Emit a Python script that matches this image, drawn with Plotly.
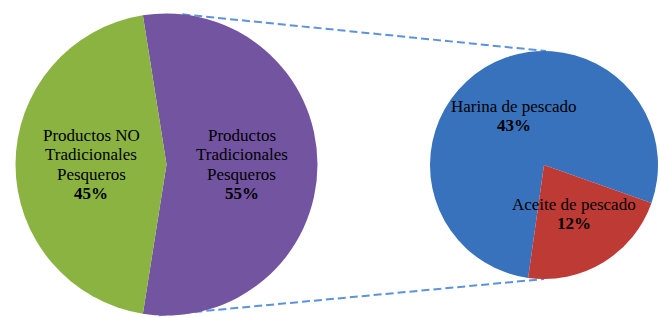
import math
import plotly.graph_objects as go

# ---- data ----
main_labels = ["Productos Tradicionales Pesqueros", "Productos NO Tradicionales Pesqueros"]
main_values = [55, 45]
main_colors = ["#7354a0", "#8bb341"]

sub_labels = ["Harina de pescado", "Aceite de pescado"]
sub_values = [43, 12]
sub_colors = ["#3872bc", "#be3a35"]

W, H = 660, 318
FONT = "Liberation Serif, Times New Roman, serif"
FS = 17
LINE_H = 19.3

# geometry (pixels)
L_CX, L_CY, L_R = 166.5, 164.5, 151
R_CX, R_CY, R_R = 544, 165, 114

def px_to_paper(x, y):
    return x / W, 1 - y / H

def domain(cx, cy, r):
    x0, y1 = px_to_paper(cx - r, cy - r)
    x1, y0 = px_to_paper(cx + r, cy + r)
    return dict(x=[x0, x1], y=[y0, y1])

# the "other" slice of the main pie is centred at 3 o'clock
main_total = sum(main_values)
main_rot = 90 - main_values[0] / main_total * 360 / 2
sub_rot = 188

fig = go.Figure()
fig.add_trace(go.Pie(
    labels=main_labels, values=main_values, sort=False, direction="clockwise",
    rotation=main_rot, marker=dict(colors=main_colors, line=dict(width=0)),
    textinfo="none", hoverinfo="label+percent", domain=domain(L_CX, L_CY, L_R),
    showlegend=False,
))
fig.add_trace(go.Pie(
    labels=sub_labels, values=sub_values, sort=False, direction="clockwise",
    rotation=sub_rot, marker=dict(colors=sub_colors, line=dict(width=0)),
    textinfo="none", hoverinfo="label", domain=domain(R_CX, R_CY, R_R),
    showlegend=False,
))

annotations = []

def add_labels(labels, values, pct_total, rot, cx, cy, r, splits):
    total = sum(values)
    start = rot
    for lab, v, sp in zip(labels, values, splits):
        span = v / total * 360
        mid = math.radians(start + span / 2)
        start += span
        x = cx + 0.5 * r * math.sin(mid)
        y = cy - 0.5 * r * math.cos(mid)
        lines = sp + ["<b>%d%%</b>" % round(v / pct_total * 100)]
        n = len(lines)
        for k, t in enumerate(lines):
            yy = y + (k - (n - 1) / 2) * LINE_H
            px, py = px_to_paper(x, yy)
            annotations.append(dict(
                x=px, y=py, xref="paper", yref="paper", text=t, showarrow=False,
                font=dict(family=FONT, size=FS, color="#000000"),
                xanchor="center", yanchor="middle",
            ))

add_labels(main_labels, main_values, main_total, main_rot, L_CX, L_CY, L_R,
           [["Productos", "Tradicionales", "Pesqueros"],
            ["Productos NO", "Tradicionales", "Pesqueros"]])
add_labels(sub_labels, sub_values, main_total, sub_rot, R_CX, R_CY, R_R,
           [["Harina de pescado"], ["Aceite de pescado"]])

# connector lines
shapes = []
for a_left, a_right in [(6, 1), (183, 180)]:
    xa = L_CX + L_R * math.sin(math.radians(a_left))
    ya = L_CY - L_R * math.cos(math.radians(a_left))
    xb = R_CX + R_R * math.sin(math.radians(a_right))
    yb = R_CY - R_R * math.cos(math.radians(a_right))
    x0, y0 = px_to_paper(xa, ya)
    x1, y1 = px_to_paper(xb, yb)
    shapes.append(dict(type="line", xref="paper", yref="paper", x0=x0, y0=y0, x1=x1, y1=y1,
                       line=dict(color="#5b93dc", width=2, dash="8px,4px"), layer="below"))

fig.update_layout(
    width=W, height=H, margin=dict(l=0, r=0, t=0, b=0),
    paper_bgcolor="white", plot_bgcolor="white",
    annotations=annotations, shapes=shapes,
)

fig.write_html("out.html", config={"displayModeBar": False},
               post_script="document.body.style.margin='0';document.body.style.overflow='hidden';")
